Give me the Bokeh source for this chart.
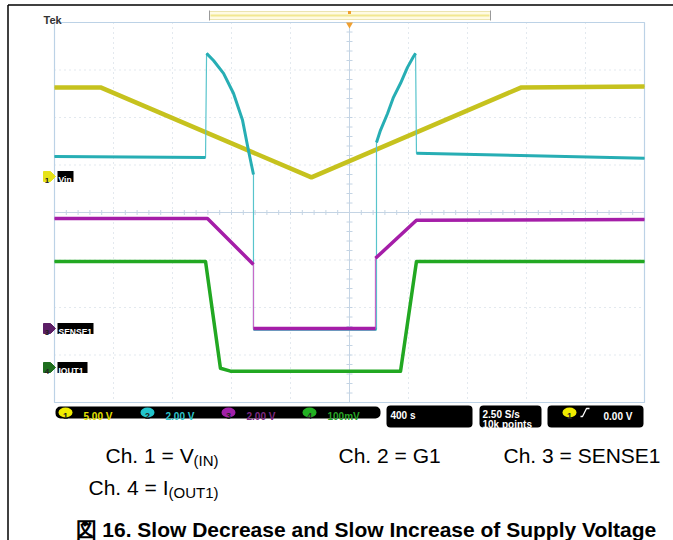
import numpy as np
from bokeh.plotting import figure
from bokeh.models import Range1d, Label, BoxAnnotation
from bokeh.embed import file_html
from bokeh.resources import INLINE

# ---------------- data ----------------
time_per_div = 400.0                      # s/div
n_hdiv, n_vdiv = 10, 8
channel_labels = ["Vin", "G1", "SENSE1", "IOUT1"]
channel_scales = [5.0, 2.0, 2.0, 0.1]     # V/div (ch4 100 mV/div)
channel_scale_text = ["5.00 V", "2.00 V", "2.00 V", "100mV"]
channel_offsets = [0.76, -2.44, -2.44, -3.26]   # ground level, divisions from centre
timebase_text = "400 s"
rate_text = ["2.50 S/s", "10k points"]
trigger_text = "0.00 V"

# Ch1 = V(IN)  [s], [V]
ch1_t = [0, 312, 1742, 3166, 4000]
ch1_v = [9.37, 9.37, -0.10, 9.37, 9.47]
# Ch2 = G1
ch2_t = [0, 1024, 1031, 1078, 1146, 1214, 1275, 1315, 1349, 1349, 2183, 2183,
         2210, 2258, 2298, 2346, 2393, 2434, 2448, 2454, 3159, 4000]
ch2_v = [7.24, 7.20, 11.58, 11.28, 10.74, 9.89, 8.76, 7.49, 6.48, -0.04, -0.04, 7.83,
         8.34, 9.05, 9.73, 10.32, 10.99, 11.45, 11.58, 7.37, 7.28, 7.16]
# Ch3 = SENSE1
ch3_t = [0, 1037, 1349, 1349, 2176, 2176, 2454, 4000]
ch3_v = [4.63, 4.63, 2.69, 0.00, 0.00, 2.95, 4.55, 4.59]
# Ch4 = I(OUT1)  [A]
ch4_t = [0, 1024, 1125, 1193, 2346, 2454, 4000]
ch4_v = [0.223, 0.223, -0.002, -0.008, -0.008, 0.223, 0.223]

# ---------------- layout (page pixels) ----------------
W, H = 673, 540
GL, GR, GT, GB = 54, 644, 22, 402
CY = (GT + GB) / 2.0
CX = (GL + GR) / 2.0
PX_S = (GR - GL) / (n_hdiv * time_per_div)
PX_DIV = (GB - GT) / n_vdiv


def X(px):
    return (px - GL) / PX_S


def Y(py):
    return (CY - py) / PX_DIV


p = figure(width=W, height=H, x_range=Range1d(X(0), X(W)), y_range=Range1d(Y(H), Y(0)),
           output_backend="svg", toolbar_location=None, min_border=0,
           x_axis_type=None, y_axis_type=None)
p.outline_line_color = None
p.background_fill_color = "white"
p.border_fill_color = "white"

FONT = "Liberation Sans"

# page border lines (cell frame)
p.segment(x0=[X(7.5), X(7.5)], y0=[Y(4.5), Y(4.5)], x1=[X(7.5), X(W)], y1=[Y(H), Y(4.5)],
          line_color="black", line_width=1.5)

# ---------------- graticule ----------------
GRID = "#c6d2de"
vx = [k * time_per_div for k in range(1, n_hdiv) if k != n_hdiv // 2]
p.segment(x0=vx, x1=vx, y0=[Y(GT)] * len(vx), y1=[Y(GB)] * len(vx),
          line_color=GRID, line_dash="1 4", line_width=1)
hy = [k for k in range(-n_vdiv // 2 + 1, n_vdiv // 2) if k != 0]
p.segment(x0=[X(GL)] * len(hy), x1=[X(GR)] * len(hy), y0=hy, y1=hy,
          line_color=GRID, line_dash="1 4", line_width=1)
# centre lines
p.segment(x0=[X(CX), X(GL)], x1=[X(CX), X(GR)], y0=[Y(GT), 0], y1=[Y(GB), 0],
          line_color="#c4d4e4", line_width=1)
# minor ticks on centre lines
tx = [i * time_per_div / 5 for i in range(1, n_hdiv * 5)]
p.segment(x0=tx, x1=tx, y0=[Y(CY - 2.5)] * len(tx), y1=[Y(CY + 2.5)] * len(tx),
          line_color="#c4d4e4", line_width=1)
ty = [i / 5 - n_vdiv / 2 for i in range(1, n_vdiv * 5)]
p.segment(x0=[X(CX - 3)] * len(ty), x1=[X(CX + 3)] * len(ty), y0=ty, y1=ty,
          line_color="#c4d4e4", line_width=1)
# border
p.quad(left=[X(GL)], right=[X(GR)], top=[Y(GT)], bottom=[Y(GB)],
       fill_alpha=0, line_color="#bcd2e6", line_width=1.2)

# ---------------- traces ----------------


def to_div(v, ch):
    return [channel_offsets[ch] + vv / channel_scales[ch] for vv in v]


def split_fast(t, d, dt_min=10):
    tt, dd = [t[0]], [d[0]]
    for i in range(1, len(t)):
        if t[i] - t[i - 1] < dt_min:
            tt.append(np.nan)
            dd.append(np.nan)
        tt.append(t[i])
        dd.append(d[i])
    return tt, dd


traces = [
    (0, ch1_t, ch1_v, "#c6c21e", "#d4d040", 4.5),
    (1, ch2_t, ch2_v, "#27aeb4", "#58c4cc", 3.0),
    (3, ch4_t, ch4_v, "#22a822", "#40c040", 3.5),
    (2, ch3_t, ch3_v, "#a51ea8", "#c86ac8", 3.5),
]
for ch, t, v, col, thin, lw in traces:
    d = to_div(v, ch)
    p.line(t, d, line_color=thin, line_width=1.2)
    tt, dd = split_fast(t, d)
    p.line(tt, dd, line_color=col, line_width=lw, line_join="round")

# ---------------- header ----------------
p.add_layout(Label(x=X(43), y=Y(19), text="Tek", text_font=FONT, text_font_style="bold",
                   text_font_size="11px", text_color="#333333", text_baseline="alphabetic"))
p.quad(left=[X(209)], right=[X(490)], top=[Y(11)], bottom=[Y(19)],
       fill_color="#fffbe4", line_color="#ece4b0", line_width=1)
p.segment(x0=[X(210)], x1=[X(489)], y0=[Y(15)], y1=[Y(15)], line_color="#f2e890", line_width=2)
p.segment(x0=[X(209), X(490)], x1=[X(209), X(490)], y0=[Y(10), Y(10)], y1=[Y(20), Y(20)],
          line_color="#9a9a9a", line_width=1)
p.scatter(x=[X(CX)], y=[Y(12)], marker="square", size=3, fill_color="#f0a030", line_color=None)
p.scatter(x=[X(CX)], y=[Y(24)], marker="inverted_triangle", size=7, fill_color="#f0a030",
          line_color=None)

# ---------------- channel markers on the left ----------------
markers = [(176, "#e6e21a", "1", "Vin", 73), (328, "#5c1e66", "3", "SENSE1", 93),
           (367, "#1e6e1e", "4", "IOUT1", 87)]
for yc, col, num, lab, xr in markers:
    p.patch(x=[X(43), X(50), X(55), X(50), X(43)],
            y=[Y(yc - 5), Y(yc - 5), Y(yc), Y(yc + 5), Y(yc + 5)], fill_color=col, line_color=col)
    p.quad(left=[X(57)], right=[X(xr)], top=[Y(yc - 5.5)], bottom=[Y(yc + 5.5)],
           fill_color="black", line_color=None)
    p.add_layout(Label(x=X(46.5), y=Y(yc + 3.5), text=num, text_font=FONT, text_font_size="8px",
                       text_font_style="bold", text_color="#222222", text_align="center",
                       text_baseline="alphabetic"))
    p.add_layout(Label(x=X(58), y=Y(yc + 3.5), text=lab, text_font=FONT, text_font_size="8.5px",
                       text_font_style="bold", text_color="white", text_baseline="alphabetic"))

# ---------------- status bar ----------------
p.add_layout(BoxAnnotation(left=X(55), right=X(380), top=Y(406), bottom=Y(418),
                           fill_color="black", fill_alpha=1, line_color=None, border_radius=5,
                           level="underlay"))
for left, right in [(386, 472), (479, 541), (547, 643)]:
    p.add_layout(BoxAnnotation(left=X(left), right=X(right), top=Y(405), bottom=Y(427),
                               fill_color="black", fill_alpha=1, line_color=None, border_radius=4,
                               level="underlay"))

ch_cols = ["#f0ec00", "#22c4cc", "#a020a8", "#22b022"]
txt_cols = ["#e6e200", "#2ec6cc", "#7e2a84", "#28a428"]
circ_x = [65, 147, 228, 309]
p.ellipse(x=[X(c) for c in circ_x] + [X(569)], y=[Y(412)] * 5, width=14 / PX_S,
          height=10 / PX_DIV, fill_color=ch_cols + [ch_cols[0]], line_color=None)
for i in range(4):
    p.add_layout(Label(x=X(circ_x[i]), y=Y(415.5), text=str(i + 1), text_font=FONT,
                       text_font_size="9px", text_font_style="bold", text_color="#222222",
                       text_align="center", text_baseline="alphabetic"))
    p.add_layout(Label(x=X(circ_x[i] + 18), y=Y(416), text=channel_scale_text[i], text_font=FONT,
                       text_font_size="10px", text_font_style="bold", text_color=txt_cols[i],
                       text_baseline="alphabetic"))
p.add_layout(Label(x=X(569), y=Y(415.5), text="1", text_font=FONT, text_font_size="9px",
                   text_font_style="bold", text_color="#222222", text_align="center",
                   text_baseline="alphabetic"))
p.line(x=[X(580), X(582), X(586), X(589)], y=[Y(416), Y(416), Y(408), Y(408)],
       line_color="white", line_width=1.3)
p.add_layout(Label(x=X(603), y=Y(416), text=trigger_text, text_font=FONT, text_font_size="10px",
                   text_font_style="bold", text_color="white", text_baseline="alphabetic"))
p.add_layout(Label(x=X(390), y=Y(415), text=timebase_text, text_font=FONT, text_font_size="10px",
                   text_font_style="bold", text_color="white", text_baseline="alphabetic"))
p.add_layout(Label(x=X(482), y=Y(414), text=rate_text[0], text_font=FONT, text_font_size="10px",
                   text_font_style="bold", text_color="white", text_baseline="alphabetic"))
p.add_layout(Label(x=X(482), y=Y(424), text=rate_text[1], text_font=FONT, text_font_size="10px",
                   text_font_style="bold", text_color="white", text_baseline="alphabetic"))

# ---------------- legend text & caption ----------------


def txt(x, y, s, size, bold=False):
    p.add_layout(Label(x=X(x), y=Y(y), text=s, text_font=FONT, text_font_size=size,
                       text_font_style="bold" if bold else "normal", text_color="black",
                       text_baseline="alphabetic"))


txt(105, 455, "Ch. 1 = V", "21px")
txt(193, 460, "(IN)", "15px")
txt(338, 455, "Ch. 2 = G1", "21px")
txt(503, 455, "Ch. 3 = SENSE1", "21px")
txt(88, 487, "Ch. 4 = I", "21px")
txt(168, 492, "(OUT1)", "15px")
txt(75, 529, "図 16. Slow Decrease and Slow Increase of Supply Voltage", "21px", bold=True)

open("out.html", "w").write(file_html(p, INLINE))
